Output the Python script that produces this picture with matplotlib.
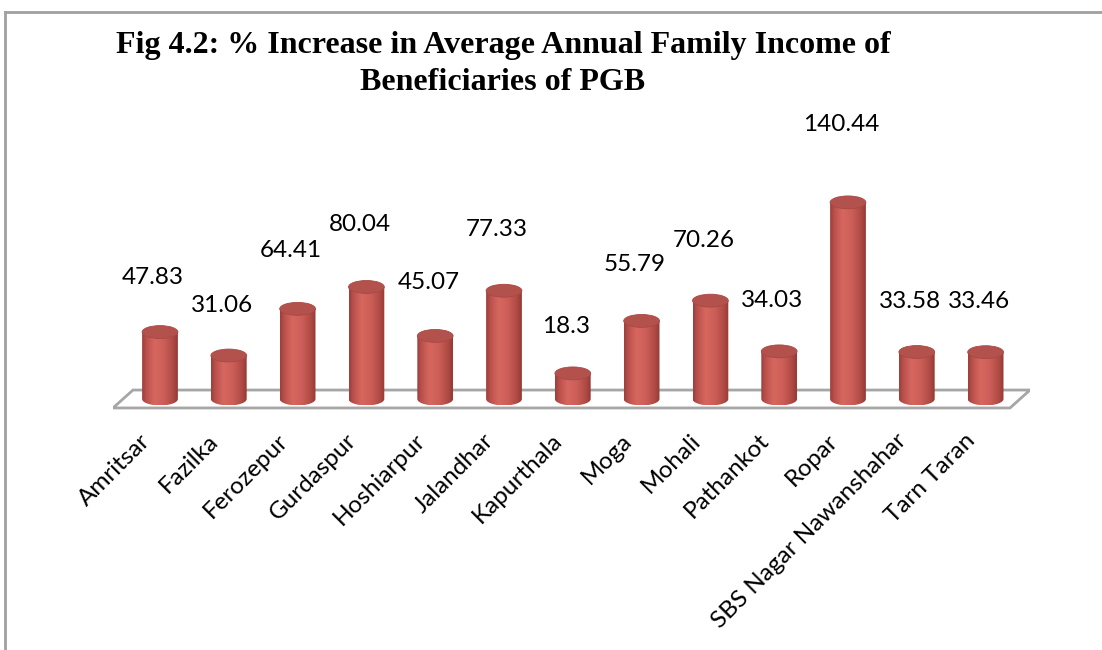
import numpy as np
import matplotlib
matplotlib.use("Agg")
import matplotlib.pyplot as plt
from matplotlib.colors import LinearSegmentedColormap
from matplotlib.patches import Ellipse, Polygon
from matplotlib.lines import Line2D
from matplotlib.transforms import ScaledTranslation

districts = ["Amritsar", "Fazilka", "Ferozepur", "Gurdaspur", "Hoshiarpur",
             "Jalandhar", "Kapurthala", "Moga", "Mohali", "Pathankot",
             "Ropar", "SBS Nagar Nawanshahar", "Tarn Taran"]
increase = [47.83, 31.06, 64.41, 80.04, 45.07, 77.33, 18.3,
            55.79, 70.26, 34.03, 140.44, 33.58, 33.46]
title = "Fig 4.2: % Increase in Average Annual Family Income of\nBeneficiaries of PGB"

W, H = 1102, 650
fig = plt.figure(figsize=(W / 100, H / 100), dpi=100)
fig.patch.set_facecolor("white")

# outer chart frame (gray line on left and top)
fig.add_artist(Line2D([5 / W, 5 / W], [0, 1 - 12 / H], color="#a0a0a0", lw=2))
fig.add_artist(Line2D([5 / W, 1], [1 - 12 / H, 1 - 12 / H], color="#a0a0a0", lw=2))

fig.text(503 / W, 1 - 64 / H, title, ha="center", va="center",
         family="Liberation Serif", weight="bold", fontsize=23,
         linespacing=1.32)

# axes placed so that one category = 68.8 px and one unit = 1.4 px
n = len(districts)
x_lo, x_hi = -0.683, n - 1 + 0.645
y_lo, y_hi = -8, 200
px_x, px_y = 68.8, 1.4
left_px = 160 + x_lo * px_x
base_px = 399
ax = fig.add_axes([left_px / W, (H - (base_px - y_lo * px_y)) / H,
                   (x_hi - x_lo) * px_x / W, (y_hi - y_lo) * px_y / H])
ax.set_axis_off()

# floor plane
floor = Polygon([(x_lo, -6.4), (n - 1 + 0.355, -6.4), (x_hi, 6.4), (x_lo + 0.29, 6.4)],
                closed=True, facecolor="white", edgecolor="#a6a6a6", lw=2, zorder=1)
ax.add_patch(floor)

cyl = LinearSegmentedColormap.from_list(
    "cyl", [(0, "#9b3f3b"), (0.12, "#bb514c"), (0.35, "#d6675f"),
            (0.6, "#cd5f58"), (0.85, "#b24b46"), (1, "#933a36")])
grad = np.linspace(0, 1, 128).reshape(1, -1)

w = 0.52
eh = 4.6
for i, v in enumerate(increase):
    t = np.linspace(0, -np.pi, 60)
    bottom = np.column_stack([i + w / 2 * np.cos(t), eh * np.sin(t)])
    verts = np.vstack([[[i + w / 2, v]], bottom, [[i - w / 2, v]]])
    clip = Polygon(verts, closed=True, facecolor="none", edgecolor="none")
    ax.add_patch(clip)
    im = ax.imshow(grad, cmap=cyl, aspect="auto", zorder=3,
                   extent=[i - w / 2, i + w / 2, -eh, v], interpolation="bilinear")
    im.set_clip_path(clip)
    ax.add_patch(Ellipse((i, v), w, 2 * eh, facecolor="#b3524d",
                         edgecolor="#a84844", lw=0.6, zorder=4))
    ax.text(i - 0.1, v * 1.18 + 30, f"{v:g}", ha="center", va="center",
            family="Lato", fontsize=17.5, color="black", zorder=5)

# rotated category labels
off = ScaledTranslation(-21 / 100, -22 / 100, fig.dpi_scale_trans)
for i, name in enumerate(districts):
    ax.text(i, -6.4, name, rotation=45, ha="right", va="top",
            rotation_mode="anchor", family="Lato", fontsize=17.5,
            transform=ax.transData + off)

ax.set_xlim(x_lo, x_hi)
ax.set_ylim(y_lo, y_hi)

fig.savefig("out.png", dpi=100, facecolor="white")
